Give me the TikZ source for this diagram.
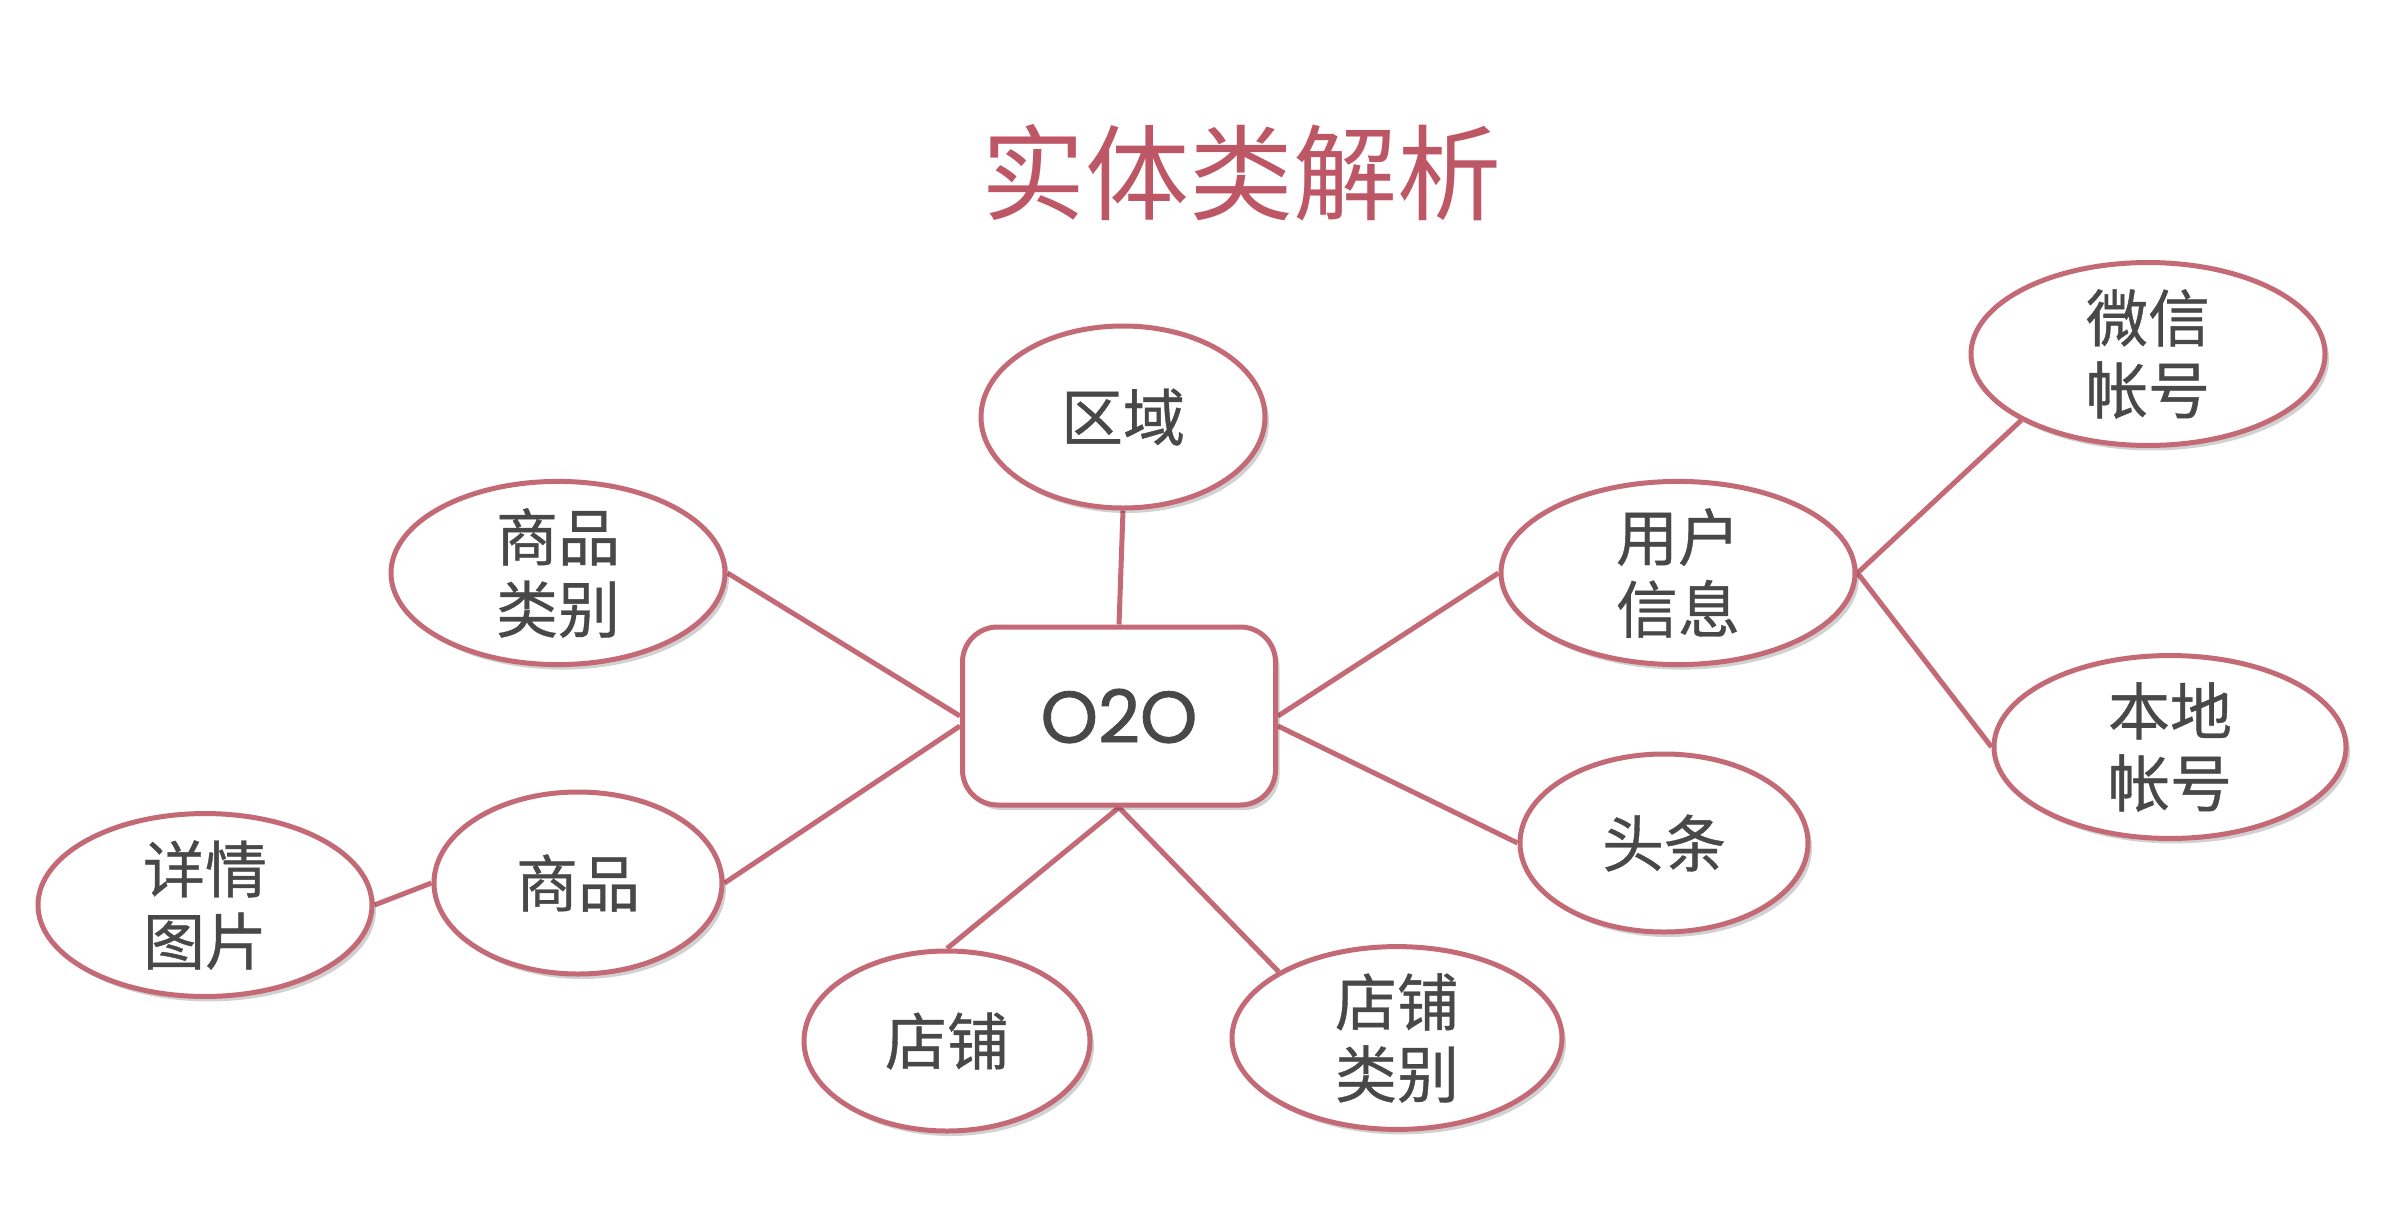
\documentclass[tikz,border=0pt]{standalone}
\usepackage{fontspec}
\newfontfamily\cjk{Noto Sans CJK SC}
\newfontfamily\cjkb{Noto Sans CJK SC}[FakeBold=0.6]
\newfontfamily\latinfont{Poppins}[FakeBold=1.2]
\usetikzlibrary{shapes.geometric,shadows,backgrounds}
\definecolor{edgec}{RGB}{196,106,118}
\definecolor{titlec}{RGB}{189,86,101}
\definecolor{textc}{RGB}{72,72,72}
\tikzset{
  ent/.style={ellipse, draw=edgec, line width=5pt, fill=white, inner sep=0pt,
    font=\cjkb\fontsize{62}{72}\selectfont, text=textc, align=center,
    drop shadow={shadow xshift=4pt, shadow yshift=-5pt, opacity=0.18, fill=black}},
  hub/.style={rectangle, rounded corners=35pt, draw=edgec, line width=5pt, fill=white,
    minimum width=313pt, minimum height=178pt, inner sep=0pt,
    font=\latinfont\fontsize{73}{80}\selectfont, text=textc,
    drop shadow={shadow xshift=4pt, shadow yshift=-5pt, opacity=0.18, fill=black}},
  link/.style={draw=edgec, line width=5pt},
  ttl/.style={font=\cjk\fontsize{104}{110}\selectfont, text=titlec, inner sep=0pt}
}
\begin{document}
\begin{tikzpicture}[x=1pt,y=-1pt]
\useasboundingbox (0,0) rectangle (2396,1210);
\node[ttl] (title) at (1241,173) {实体类解析};
\node[hub] (o2o) at (1119,716) {O2O};
\node[ent, minimum width=284pt, minimum height=182pt] (quyu) at (1123,417) {区域};
\node[ent, minimum width=334pt, minimum height=180pt] (splb) at (558,573) {商品\\类别};
\node[ent, minimum width=288pt, minimum height=182pt] (sp) at (578,883) {商品};
\node[ent, minimum width=334pt, minimum height=180pt] (xqtp) at (205,905) {详情\\图片};
\node[ent, minimum width=286pt, minimum height=180pt] (dp) at (947,1041) {店铺};
\node[ent, minimum width=330pt, minimum height=180pt] (dplb) at (1397,1038) {店铺\\类别};
\node[ent, minimum width=354pt, minimum height=176pt] (yhxx) at (1678,573) {用户\\信息};
\node[ent, minimum width=288pt, minimum height=178pt] (tt) at (1664,843) {头条};
\node[ent, minimum width=354pt, minimum height=182pt] (wx) at (2148,354) {微信\\帐号};
\node[ent, minimum width=352pt, minimum height=178pt] (bd) at (2170,747) {本地\\帐号};
\begin{scope}[on background layer]
\fill[white] (0,0) rectangle (2396,1210);
\draw[link] (quyu.south) -- (o2o.north);
\draw[link] (splb.east) -- (o2o.west);
\draw[link] (sp.east) -- ([yshift=-10pt]o2o.west);
\draw[link] (yhxx.west) -- (o2o.east);
\draw[link] (tt.west) -- ([yshift=-10pt]o2o.east);
\draw[link] (dp.north) -- (o2o.south);
\draw[link] (dplb.north west) -- (o2o.south);
\draw[link] (yhxx.east) -- (wx.south west);
\draw[link] (yhxx.east) -- (bd.west);
\draw[link] (xqtp.east) -- (sp.west);
\end{scope}
\end{tikzpicture}
\end{document}
